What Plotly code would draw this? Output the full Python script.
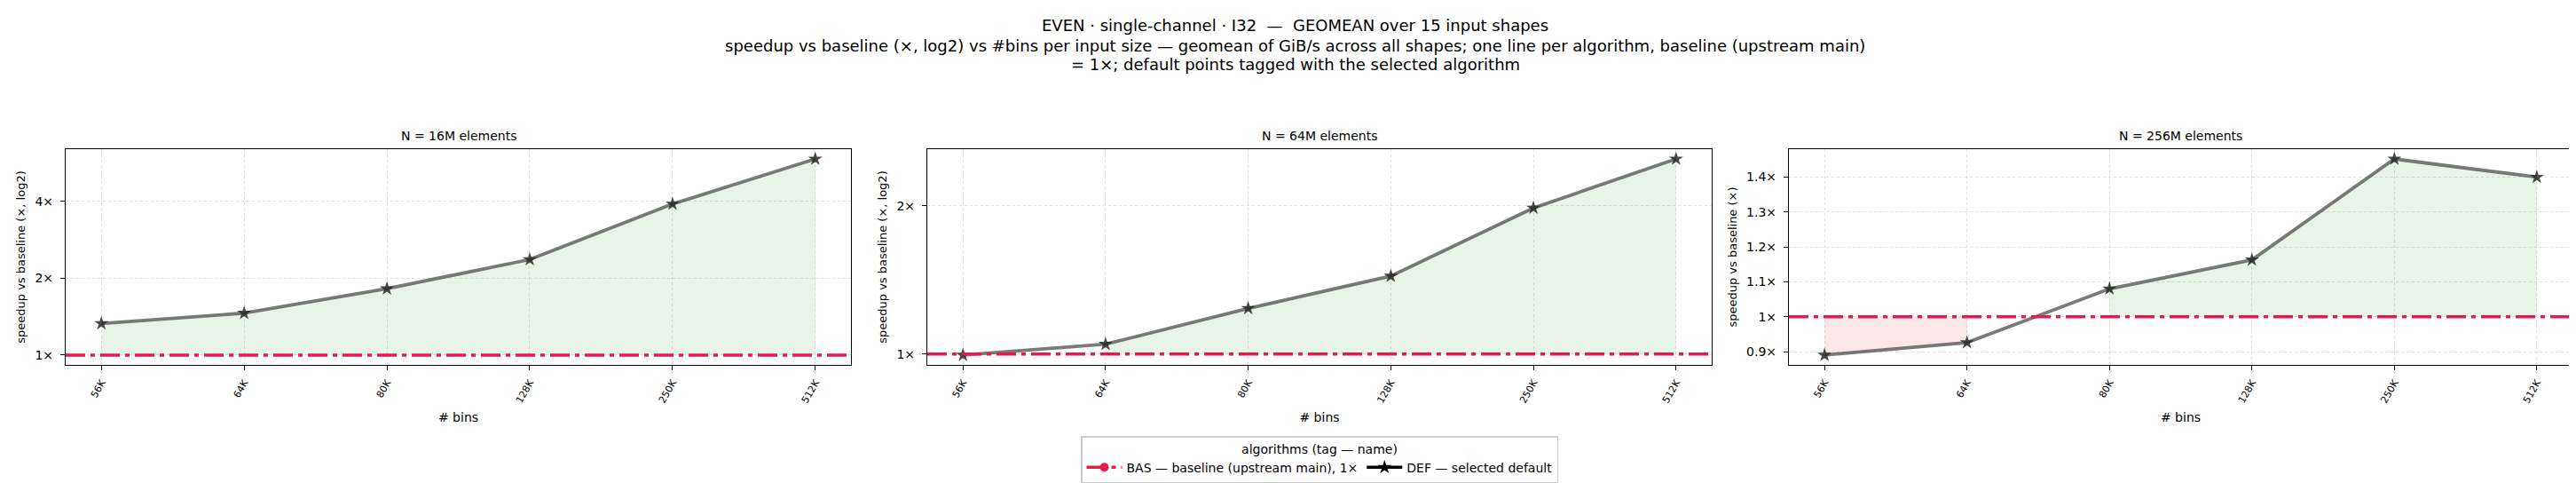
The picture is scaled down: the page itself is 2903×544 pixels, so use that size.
import numpy as np
import plotly.graph_objects as go

# ---- data ----
bins = ['56K', '64K', '80K', '128K', '250K', '512K']
sizes = ['16M', '64M', '256M']
speedup_16m = [1.33, 1.46, 1.82, 2.37, 3.91, 5.87]
speedup_64m = [0.995, 1.047, 1.238, 1.44, 1.98, 2.49]
speedup_256m = [0.890, 0.926, 1.080, 1.163, 1.452, 1.400]
log_scale = [True, True, False]
log_ticks = [0.25, 0.5, 1, 2, 4, 8, 16]
lin_ticks = [0.7, 0.8, 0.9, 1.0, 1.1, 1.2, 1.3, 1.4, 1.5, 1.6]

title_lines = [
    'EVEN · single-channel · I32  —  GEOMEAN over 15 input shapes',
    'speedup vs baseline (×, log2) vs #bins per input size — geomean of GiB/s across all shapes; one line per algorithm, baseline (upstream main)',
    '= 1×; default points tagged with the selected algorithm',
]

font = 'DejaVu Sans'
base_color = '#e6194b'
def_line = 'rgba(70,70,70,0.72)'
def_marker = 'rgba(40,40,40,0.85)'
green_fill = 'rgba(0,128,0,0.09)'
red_fill = 'rgba(214,39,40,0.11)'
base_dash = '22px,6px,5px,6px'

W, H = 2903, 544
x_domains = [[66 / W, 951 / W], [1037 / W, 1921 / W], [2008 / W, 2891 / W]]
y_domain = [1 - 403 / H, 1 - 160 / H]
title_y = [21, 43, 64]


def runs(vals, cond):
    out, cur = [], []
    for i, v in enumerate(vals):
        if cond(v):
            cur.append(i)
        else:
            if len(cur) > 1:
                out.append(cur)
            cur = []
    if len(cur) > 1:
        out.append(cur)
    return out


fig = go.Figure()
series = [speedup_16m, speedup_64m, speedup_256m]

for k, vals in enumerate(series):
    sfx = '' if k == 0 else str(k + 1)
    xa, ya = 'x' + sfx, 'y' + sfx

    # shaded regions vs the 1x baseline
    for cond, col in [(lambda v: v >= 1, green_fill), (lambda v: v < 1, red_fill)]:
        for run in runs(vals, cond):
            fig.add_trace(go.Scatter(
                x=[bins[i] for i in run] + [bins[i] for i in reversed(run)],
                y=[vals[i] for i in run] + [1] * len(run),
                fill='toself', fillcolor=col, mode='lines',
                line=dict(width=0), hoverinfo='skip', showlegend=False,
                xaxis=xa, yaxis=ya))

    fig.add_trace(go.Scatter(
        x=bins, y=vals, mode='lines+markers',
        line=dict(color=def_line, width=3.8),
        marker=dict(symbol='star', size=12, color=def_marker),
        showlegend=False, xaxis=xa, yaxis=ya))

    fig.add_shape(type='line', xref=xa + ' domain', yref=ya,
                  x0=0, x1=1, y0=1, y1=1, layer='above',
                  line=dict(color=base_color, width=3.5, dash=base_dash))

    # y range like matplotlib autoscale (5% margin), baseline included
    allv = np.array(list(vals) + [1.0])
    if log_scale[k]:
        lo, hi = np.log10(allv.min()), np.log10(allv.max())
        pad = 0.05 * (hi - lo)
        yr = [lo - pad, hi + pad]
        tv = [t for t in log_ticks if 10 ** yr[0] <= t <= 10 ** yr[1]]
        ytitle = 'speedup vs baseline (×, log2)'
        ytype = 'log'
    else:
        lo, hi = allv.min(), allv.max()
        pad = 0.05 * (hi - lo)
        yr = [lo - pad, hi + pad]
        tv = [t for t in lin_ticks if yr[0] <= t <= yr[1]]
        ytitle = 'speedup vs baseline (×)'
        ytype = 'linear'

    axis_common = dict(
        showline=True, mirror=True, linecolor='black', linewidth=1.3,
        ticks='outside', ticklen=5, tickcolor='black', tickwidth=1.2,
        showgrid=True, gridcolor='#dedede', griddash='dot', gridwidth=1,
        zeroline=False,
    )
    fig.update_layout({
        'xaxis' + sfx: dict(
            axis_common, domain=x_domains[k], anchor=ya,
            type='category', categoryorder='array', categoryarray=bins,
            range=[-0.25, len(bins) - 0.75], tickangle=-60,
            ticklabelstandoff=3,
            tickfont=dict(family=font, size=11, color='black'),
            title=dict(text='# bins', standoff=9,
                       font=dict(family=font, size=14, color='black'))),
        'yaxis' + sfx: dict(
            axis_common, domain=y_domain, anchor=xa, type=ytype, range=yr,
            tickvals=tv, ticktext=['%g×' % t for t in tv],
            ticklabelstandoff=5,
            tickfont=dict(family=font, size=14, color='black'),
            title=dict(text=ytitle, standoff=7,
                       font=dict(family=font, size=13, color='black'))),
    })

    fig.add_annotation(
        text='N = %s elements' % sizes[k], xref='paper', yref='paper',
        x=sum(x_domains[k]) / 2, y=1 - 145 / H, xanchor='center', yanchor='middle',
        showarrow=False, font=dict(family=font, size=14, color='black'))

for line, yy in zip(title_lines, title_y):
    fig.add_annotation(
        text=line, xref='paper', yref='paper', x=0.5, y=1 - yy / H,
        xanchor='center', yanchor='middle', showarrow=False,
        font=dict(family=font, size=18, color='black'))

# legend-only entries
fig.add_trace(go.Scatter(
    x=[None], y=[None], mode='lines+markers', name='BAS — baseline (upstream main), 1×',
    line=dict(color=base_color, width=3.5, dash=base_dash),
    marker=dict(symbol='circle', size=10, color=base_color)))
fig.add_trace(go.Scatter(
    x=[None], y=[None], mode='lines+markers', name='DEF — selected default',
    line=dict(color='black', width=3.5),
    marker=dict(symbol='star', size=12, color='black')))

fig.update_layout(
    width=W, height=H,
    margin=dict(l=0, r=0, t=0, b=0),
    paper_bgcolor='white', plot_bgcolor='white',
    font=dict(family=font, color='black'),
    legend=dict(
        orientation='h', x=1479 / W, xanchor='center', y=1 - 483 / H, yanchor='top',
        title=dict(text='algorithms (tag — name)', side='top center',
                   font=dict(family=font, size=14, color='black')),
        font=dict(family=font, size=14, color='black'),
        bordercolor='#cccccc', borderwidth=1.5, bgcolor='white',
        itemwidth=40),
)

fig.write_html('out.html')
